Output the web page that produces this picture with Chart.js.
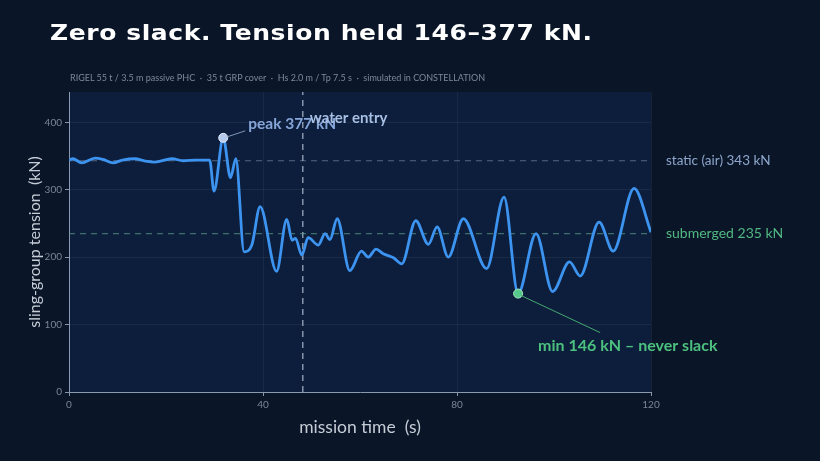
<!DOCTYPE html>
<html>
<head>
<meta charset="utf-8">
<script src="https://cdn.jsdelivr.net/npm/chart.js@4.4.1/dist/chart.umd.min.js"></script>
<style>
  html, body { margin: 0; padding: 0; background: #0a1628; width: 820px; height: 461px; overflow: hidden; }
  #wrap { position: relative; width: 820px; height: 461px; }
  #chart { position: absolute; left: 0; top: 0; }
  h1 { position: absolute; left: 50px; top: 20px; margin: 0; font: bold 21px/26px "DejaVu Sans", sans-serif; color: #ffffff; letter-spacing: 0.5px; white-space: nowrap; transform: scaleX(1.19); transform-origin: 0 0; }
  .sub { position: absolute; left: 70px; top: 72px; font: 9px/12px Lato, sans-serif; color: #7d8899; white-space: nowrap; }
</style>
</head>
<body>
<div id="wrap">
  <canvas id="chart" width="820" height="461"></canvas>
  <h1>Zero slack. Tension held 146–377 kN.</h1>
  <div class="sub">RIGEL 55 t / 3.5 m passive PHC &nbsp;·&nbsp; 35 t GRP cover &nbsp;·&nbsp; Hs 2.0 m / Tp 7.5 s &nbsp;·&nbsp; simulated in CONSTELLATION</div>
</div>
<script>
// mission time (s) and sling-group tension (kN)
const times = [0, 0.8, 2.6, 5.4, 7, 9.1, 11, 13.6, 15.5, 17.7, 21.2, 23.6, 26, 29,
  29.9, 31.8, 33.3, 34.4, 36.1, 37.7, 39.4, 42.8, 44.9, 46.0, 46.7, 48.0, 49.3,
  51.4, 52.8, 53.8, 55.3, 57.9, 60.3, 61.7, 63.3, 64.8, 66.9, 68.6, 71.5, 74.1,
  75.9, 78.2, 81.3, 86.1, 89.7, 92.6, 96.3, 99.7, 103.2, 105.4, 109.3, 112.2,
  116.5, 120];
const tension = [344, 346, 340, 347, 345, 340, 344, 346, 343, 341, 346, 343, 344, 344,
  298, 377, 318, 346, 208, 218, 275, 179, 256, 225, 228, 203, 229,
  218, 235, 226, 257, 180, 209, 200, 212, 205, 199, 190, 254, 219,
  245, 200, 257, 183, 289, 146, 235, 149, 193, 172, 252, 209,
  302, 237];

const xTicks = [0, 40, 80, 120];
const yTicks = [0, 100, 200, 300, 400];

const staticAir = 343;
const submerged = 235;
const waterEntry = 48.2;
const peakTime = 31.8, peakValue = 377;
const minTime = 92.6, minValue = 146;

const bgPlugin = {
  id: 'plotBg',
  beforeDraw(chart) {
    const { ctx, chartArea: a } = chart;
    ctx.save();
    ctx.fillStyle = '#0c1e3b';
    ctx.fillRect(a.left, a.top, a.right - a.left, a.bottom - a.top);
    ctx.restore();
  }
};

const labelPlugin = {
  id: 'labels',
  afterDatasetsDraw(chart) {
    const { ctx, scales: { x, y }, chartArea: a } = chart;
    ctx.save();
    ctx.textBaseline = 'middle';

    // right side reference labels
    ctx.font = '13.5px Lato';
    ctx.fillStyle = '#8ea6cc';
    ctx.fillText('static (air) ' + staticAir + ' kN', a.right + 15, y.getPixelForValue(staticAir));
    ctx.font = '14px Lato';
    ctx.fillStyle = '#52b882';
    ctx.fillText('submerged ' + submerged + ' kN', a.right + 15, y.getPixelForValue(submerged));

    // peak callout
    const px = x.getPixelForValue(peakTime), py = y.getPixelForValue(peakValue);
    ctx.strokeStyle = '#7f95b8';
    ctx.lineWidth = 1;
    ctx.beginPath();
    ctx.moveTo(px + 4, py - 1);
    ctx.lineTo(px + 22, py - 7);
    ctx.stroke();
    ctx.font = 'bold 15.5px Lato';
    ctx.fillStyle = '#86a6da';
    ctx.fillText('peak ' + peakValue + ' kN', px + 25, py - 14);

    // water entry
    ctx.font = 'bold 15px Lato';
    ctx.fillStyle = '#a8bfe4';
    ctx.fillText('water entry', x.getPixelForValue(waterEntry) + 7, a.top + 26);

    // min callout
    const mx = x.getPixelForValue(minTime), my = y.getPixelForValue(minValue);
    ctx.strokeStyle = '#45a872';
    ctx.beginPath();
    ctx.moveTo(mx + 3, my + 2);
    ctx.lineTo(mx + 82, my + 39);
    ctx.stroke();
    ctx.font = 'bold 16px Lato';
    ctx.fillStyle = '#4cc07e';
    ctx.fillText('min ' + minValue + ' kN – never slack', mx + 20, my + 52);
    ctx.restore();
  }
};

const trace = times.map((t, i) => ({ x: t, y: tension[i] }));

new Chart(document.getElementById('chart'), {
  type: 'line',
  data: {
    datasets: [
      {
        data: trace,
        borderColor: '#3d94f0',
        borderWidth: 2.8,
        pointRadius: 0,
        cubicInterpolationMode: 'monotone',
        order: 1
      },
      {
        data: [{ x: 0, y: staticAir }, { x: 120, y: staticAir }],
        borderColor: 'rgba(140,160,185,0.55)',
        borderWidth: 1.2,
        borderDash: [6, 5],
        pointRadius: 0,
        order: 2
      },
      {
        data: [{ x: 0, y: submerged }, { x: 120, y: submerged }],
        borderColor: 'rgba(95,165,140,0.6)',
        borderWidth: 1.2,
        borderDash: [6, 5],
        pointRadius: 0,
        order: 2
      },
      {
        data: [{ x: waterEntry, y: 0 }, { x: waterEntry, y: 445 }],
        borderColor: 'rgba(175,190,210,0.75)',
        borderWidth: 1.5,
        borderDash: [6, 5],
        pointRadius: 0,
        order: 2
      },
      {
        data: [{ x: peakTime, y: peakValue }],
        pointRadius: 4.5,
        pointBackgroundColor: '#b4cbee',
        pointBorderColor: '#e5eefc',
        pointBorderWidth: 1,
        showLine: false,
        order: 0
      },
      {
        data: [{ x: minTime, y: minValue }],
        pointRadius: 4.5,
        pointBackgroundColor: '#55c98a',
        pointBorderColor: '#a8ecc6',
        pointBorderWidth: 1,
        showLine: false,
        order: 0
      }
    ]
  },
  options: {
    responsive: false,
    animation: false,
    layout: { padding: { left: 20, right: 169, top: 92, bottom: 0 } },
    plugins: { legend: { display: false }, tooltip: { enabled: false } },
    scales: {
      x: {
        type: 'linear',
        min: 0,
        max: 120,
        afterBuildTicks: s => { s.ticks = xTicks.map(v => ({ value: v })); },
        afterFit: s => { s.height = 69; },
        ticks: { color: '#7a8597', font: { family: 'Lato', size: 10 }, padding: 3, maxRotation: 0 },
        grid: { color: 'rgba(255,255,255,0.05)', tickColor: '#8595ab', tickLength: 4 },
        border: { color: '#8a9ab0', width: 1 },
        title: { display: true, text: 'mission time  (s)', color: '#c5ccd6', font: { family: 'Lato', size: 17.5 }, padding: { top: 0, bottom: 23 } }
      },
      y: {
        min: 0,
        max: 445,
        afterBuildTicks: s => { s.ticks = yTicks.map(v => ({ value: v })); },
        afterFit: s => { s.width = 49; },
        ticks: { color: '#7a8597', font: { family: 'Lato', size: 10 }, padding: 3 },
        grid: { color: 'rgba(255,255,255,0.06)', tickColor: '#8595ab', tickLength: 4 },
        border: { color: '#8a9ab0', width: 1 },
        title: { display: true, text: 'sling-group tension  (kN)', color: '#c5ccd6', font: { family: 'Lato', size: 16 }, padding: { top: 5, bottom: 0 } }
      }
    }
  },
  plugins: [bgPlugin, labelPlugin]
});
</script>
</body>
</html>
